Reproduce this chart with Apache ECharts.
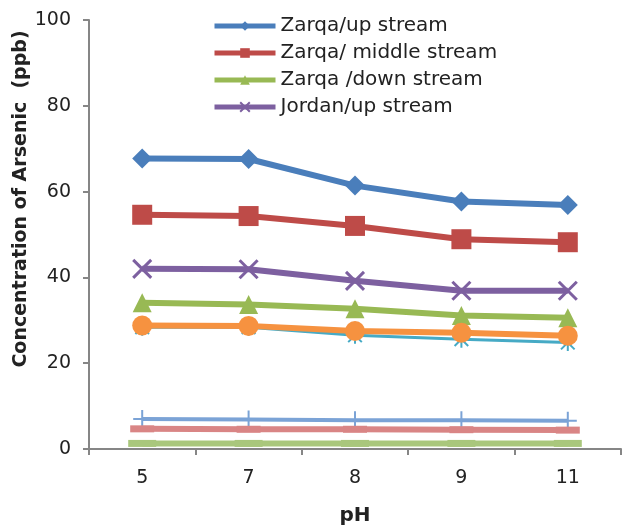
<!DOCTYPE html>
<html><head><meta charset="utf-8">
<script src="https://cdn.jsdelivr.net/npm/echarts@6/dist/echarts.min.js"></script>
<style>html,body{margin:0;padding:0;background:#fff}#c{width:624px;height:531px}</style>
</head><body><div id="c"></div>
<script>
const categories = ['5', '7', '8', '9', '11'];
const zarqaUp = [67.7, 67.6, 61.4, 57.7, 56.9];
const zarqaMiddle = [54.6, 54.3, 52.0, 48.9, 48.2];
const zarqaDown = [34.1, 33.7, 32.7, 31.1, 30.6];
const jordanUp = [42.0, 41.9, 39.2, 36.9, 36.9];
const tealSeries = [28.4, 28.4, 26.5, 25.6, 24.8];
const orangeSeries = [28.8, 28.7, 27.5, 27.1, 26.4];
const lightBlueSeries = [7.0, 6.9, 6.7, 6.7, 6.6];
const pinkSeries = [4.7, 4.6, 4.6, 4.5, 4.4];
const lightGreenSeries = [1.3, 1.3, 1.3, 1.3, 1.3];
const legendNames = ['Zarqa/up stream', 'Zarqa/ middle stream', 'Zarqa /down stream', 'Jordan/up stream'];
const yAxisTitle = 'Concentration of Arsenic  (ppb)';
const xAxisTitle = 'pH';

const FONT = '"DejaVu Sans", sans-serif';
const xPath = 'path://M0,0 L10,10 M10,0 L0,10';
const plusPath = 'path://M5,0 L5,10 M0,5 L10,5';
const starPath = 'path://M5,0 L5,10 M1,1 L9,9 M9,1 L1,9';

function lineSeries(name, data, color, width, symbol, size, extra) {
  return Object.assign({
    name: name,
    type: 'line',
    data: data,
    symbol: symbol,
    symbolSize: size,
    symbolKeepAspect: true,
    showSymbol: true,
    animation: false,
    lineStyle: { color: color, width: width },
    itemStyle: { color: color, borderColor: color, borderWidth: 0 }
  }, extra || {});
}

const chart = echarts.init(document.getElementById('c'), null, { renderer: 'canvas' });
chart.setOption({
  animation: false,
  backgroundColor: '#ffffff',
  grid: { left: 89, right: 3, top: 20, bottom: 79, containLabel: false },
  legend: {
    data: legendNames,
    orient: 'vertical',
    left: 207,
    top: 11,
    itemWidth: 61,
    itemHeight: 12,
    itemGap: 7,
    lineStyle: { width: 5 },
    textStyle: { fontFamily: FONT, fontSize: 20, color: '#222', lineHeight: 20 }
  },
  xAxis: {
    type: 'category',
    data: categories,
    boundaryGap: true,
    name: xAxisTitle,
    nameLocation: 'middle',
    nameGap: 57,
    nameTextStyle: { fontFamily: FONT, fontSize: 20, fontWeight: 'bold', color: '#222' },
    axisLine: { lineStyle: { color: '#868686', width: 2 } },
    axisTick: { show: true, length: 6, inside: false, alignWithLabel: false, lineStyle: { color: '#868686', width: 2 } },
    axisLabel: { fontFamily: FONT, fontSize: 19, color: '#222', margin: 20 },
    splitLine: { show: false }
  },
  yAxis: {
    type: 'value',
    min: 0,
    max: 100,
    interval: 20,
    axisLine: { show: true, lineStyle: { color: '#868686', width: 2 } },
    axisTick: { show: true, length: 6, inside: false, lineStyle: { color: '#868686', width: 2 } },
    axisLabel: { fontFamily: FONT, fontSize: 19, color: '#222', margin: 18 },
    splitLine: { show: false }
  },
  graphic: [{
    type: 'text',
    x: 21,
    y: 199,
    rotation: Math.PI / 2,
    style: {
      text: yAxisTitle,
      fontFamily: FONT,
      fontSize: 19,
      fontWeight: 'bold',
      fill: '#222',
      align: 'center',
      verticalAlign: 'middle',
      textAlign: 'center',
      textVerticalAlign: 'middle'
    }
  }],
  series: [
    lineSeries('Zarqa/up stream', zarqaUp, '#4A7EBB', 6, 'diamond', 20),
    lineSeries('Zarqa/ middle stream', zarqaMiddle, '#BE4B48', 6, 'rect', 20),
    lineSeries('Zarqa /down stream', zarqaDown, '#98B954', 6, 'triangle', 19),
    lineSeries('Jordan/up stream', jordanUp, '#7D60A0', 6, xPath, 18, {
      itemStyle: { color: 'rgba(0,0,0,0)', borderColor: '#7D60A0', borderWidth: 3 }
    }),
    lineSeries('s5', tealSeries, '#46AAC5', 3, starPath, 17, {
      itemStyle: { color: 'rgba(0,0,0,0)', borderColor: '#46AAC5', borderWidth: 2 }
    }),
    lineSeries('s6', orangeSeries, '#F69240', 6, 'circle', 20),
    lineSeries('s7', lightBlueSeries, '#7BA3D6', 4, plusPath, 18, {
      itemStyle: { color: 'rgba(0,0,0,0)', borderColor: '#7BA3D6', borderWidth: 2 }
    }),
    lineSeries('s8', pinkSeries, '#D98585', 6, 'rect', [24, 7]),
    lineSeries('s9', lightGreenSeries, '#A9C77C', 6, 'rect', [28, 7])
  ]
});
</script>
</body></html>
